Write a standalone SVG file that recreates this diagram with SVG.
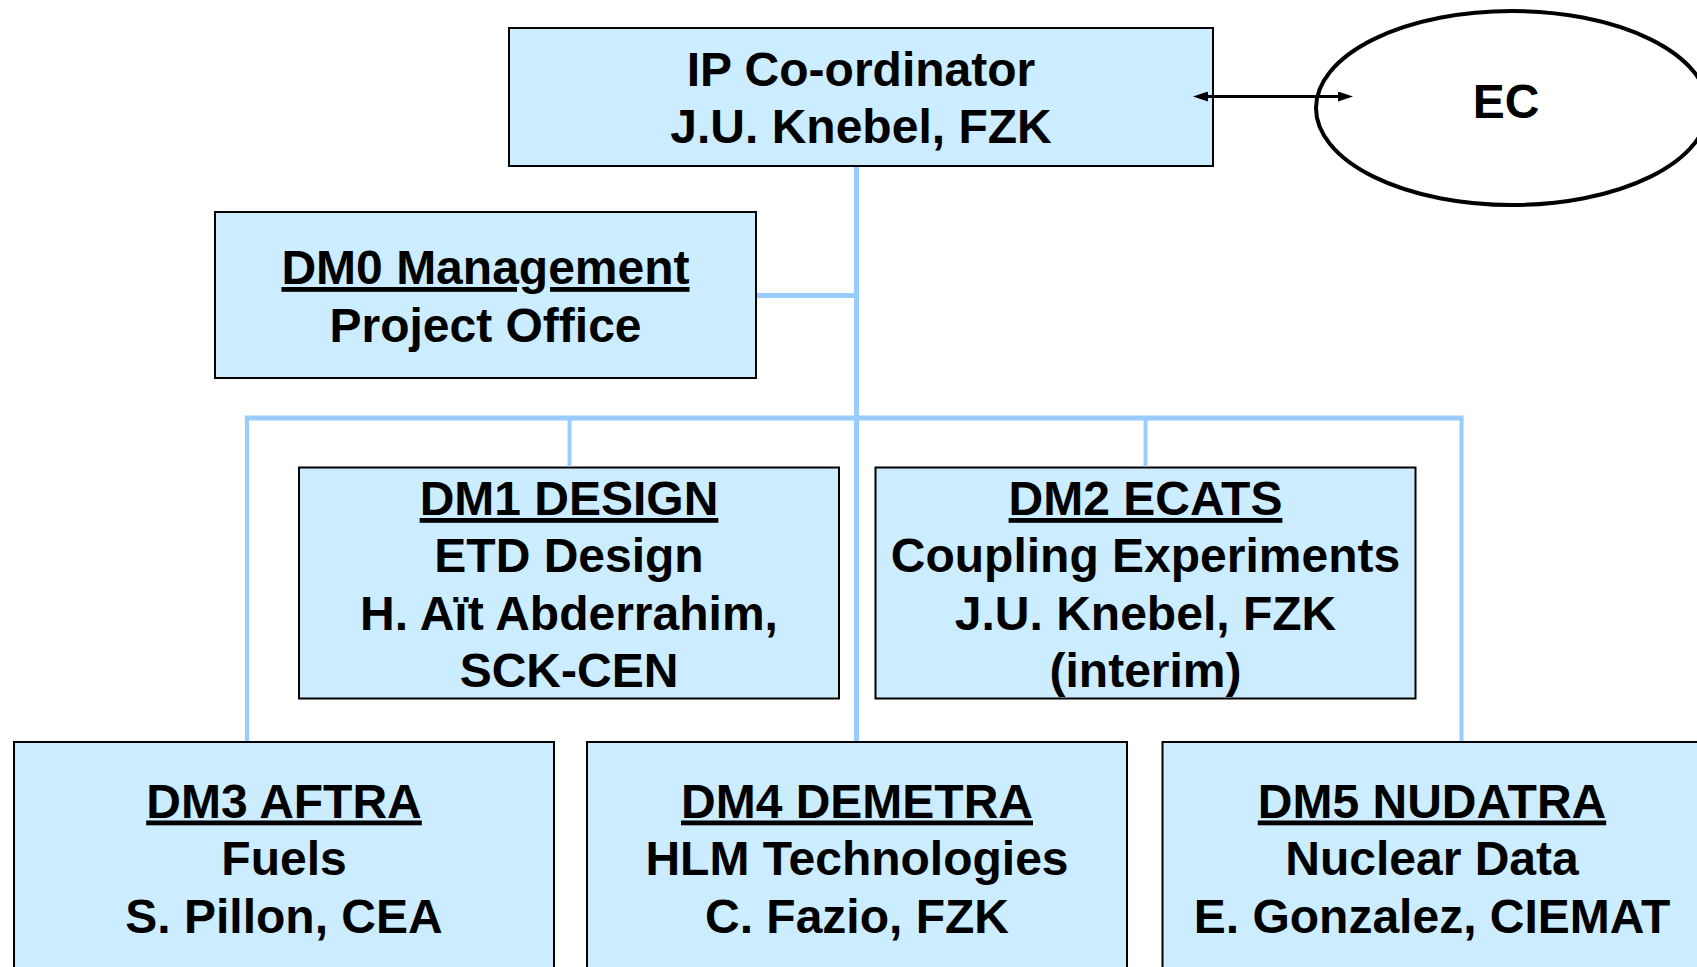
<svg xmlns="http://www.w3.org/2000/svg" width="1697" height="967" viewBox="0 0 1697 967">
<style>
.box{fill:#ccecff;stroke:#000;stroke-width:2}
.t{font-family:"Liberation Sans",Arial,sans-serif;font-weight:bold;font-size:48px;fill:#000;text-anchor:middle}
.u{text-decoration:underline}
.bus{stroke:#99ccff;stroke-width:5;fill:none}
.bus2{stroke:#99ccff;stroke-width:4;fill:none}
.arr{stroke:#000;stroke-width:3;fill:none}
</style>
<defs>
<marker id="ah" markerUnits="userSpaceOnUse" markerWidth="15" markerHeight="10" refX="7" refY="5" orient="auto-start-reverse" viewBox="0 0 15 10">
<path d="M0,0 L15,5 L0,10 z" fill="#000"/>
</marker>
</defs>
<rect width="1697" height="967" fill="#fff"/>
<g id="nodes">
<g id="ip">
<rect class="box" x="509" y="28" width="704" height="138"/>
<text class="t" x="861" y="86">IP Co-ordinator</text>
<text class="t" x="861" y="143">J.U. Knebel, FZK</text>
</g>
<g id="ec">
<ellipse cx="1512" cy="108" rx="196" ry="97" fill="#fff" stroke="#000" stroke-width="4"/>
<text class="t" x="1506" y="118">EC</text>
</g>
<g id="dm0">
<rect class="box" x="215" y="212" width="541" height="166"/>
<text class="t u" x="485.5" y="284">DM0 Management</text>
<text class="t" x="485.5" y="341.5">Project Office</text>
</g>
<g id="dm1">
<rect class="box" x="299" y="467.5" width="540" height="231"/>
<text class="t u" x="569" y="515">DM1 DESIGN</text>
<text class="t" x="569" y="572">ETD Design</text>
<text class="t" x="569" y="629.5">H. Aït Abderrahim,</text>
<text class="t" x="569" y="687">SCK-CEN</text>
</g>
<g id="dm2">
<rect class="box" x="875.5" y="467.5" width="540" height="231"/>
<text class="t u" x="1145.5" y="515">DM2 ECATS</text>
<text class="t" x="1145.5" y="572">Coupling Experiments</text>
<text class="t" x="1145.5" y="629.5">J.U. Knebel, FZK</text>
<text class="t" x="1145.5" y="687">(interim)</text>
</g>
<g id="dm3">
<rect class="box" x="14" y="742" width="540" height="240"/>
<text class="t u" x="284" y="817.5">DM3 AFTRA</text>
<text class="t" x="284" y="875">Fuels</text>
<text class="t" x="284" y="932.5">S. Pillon, CEA</text>
</g>
<g id="dm4">
<rect class="box" x="587" y="742" width="540" height="240"/>
<text class="t u" x="857" y="817.5">DM4 DEMETRA</text>
<text class="t" x="857" y="875">HLM Technologies</text>
<text class="t" x="857" y="932.5">C. Fazio, FZK</text>
</g>
<g id="dm5">
<rect class="box" x="1162.5" y="742" width="540" height="240"/>
<text class="t u" x="1432" y="817.5">DM5 NUDATRA</text>
<text class="t" x="1432" y="875">Nuclear Data</text>
<text class="t" x="1432" y="932.5">E. Gonzalez, CIEMAT</text>
</g>
</g>
<g id="connectors">
<line class="bus" x1="856.5" y1="167" x2="856.5" y2="741"/>
<line class="bus" x1="757" y1="295.5" x2="859" y2="295.5"/>
<line class="bus" x1="244.8" y1="418" x2="1463.5" y2="418"/>
<line class="bus2" x1="247" y1="418" x2="247" y2="741"/>
<line class="bus2" x1="1461.5" y1="418" x2="1461.5" y2="741"/>
<line class="bus2" x1="569.5" y1="418" x2="569.5" y2="466.5"/>
<line class="bus2" x1="1145.5" y1="418" x2="1145.5" y2="466.5"/>
<line class="arr" x1="1201" y1="96.5" x2="1345" y2="96.5" marker-start="url(#ah)" marker-end="url(#ah)"/>
</g>
</svg>
